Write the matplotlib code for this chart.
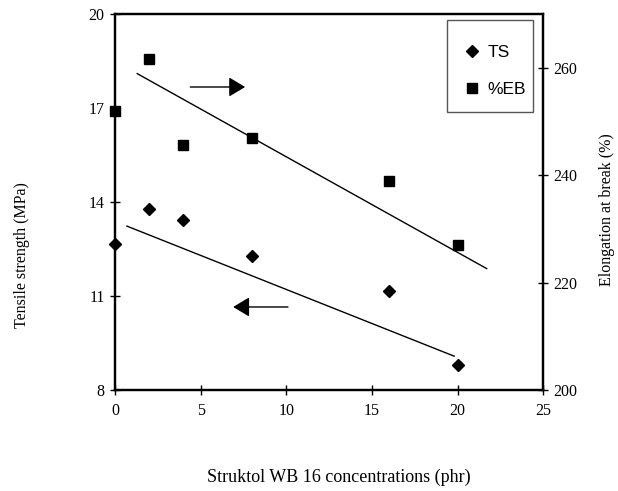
import matplotlib
matplotlib.use("Agg")
import matplotlib.pyplot as plt
from matplotlib.lines import Line2D
from matplotlib.patches import Rectangle

# Struktol WB 16 loading (phr)
conc = [0, 2, 4, 8, 16, 20]
tensile_strength = [12.65, 13.77, 13.43, 12.28, 11.17, 8.80]      # MPa
elongation_break = [251.9, 261.7, 245.7, 246.9, 239.0, 227.0]    # %

# Trend lines (end points)
ts_trend_x = [0.7, 19.8]
ts_trend_y = [13.23, 9.08]
eb_trend_x = [1.3, 21.7]
eb_trend_y = [258.9, 222.6]

x_ticks = [0, 5, 10, 15, 20, 25]
ts_ticks = [8, 11, 14, 17, 20]
eb_ticks = [200, 220, 240, 260]

serif = "Liberation Serif"
sans = "Liberation Sans"

fig = plt.figure(figsize=(6.18, 4.91), dpi=100)
ax = fig.add_axes([0.186, 0.2057, 0.693, 0.7658])
ax2 = ax.twinx()

ax.set_xlim(0, 25)
ax.set_ylim(8, 20)
ax2.set_ylim(200, 270)

ax.plot(conc, tensile_strength, linestyle="none", marker="D", markersize=6.5,
        color="black", clip_on=False, zorder=5)
ax.plot(ts_trend_x, ts_trend_y, color="black", linewidth=1.0)

ax2.plot(conc, elongation_break, linestyle="none", marker="s", markersize=7.5,
         color="black", clip_on=False, zorder=5)
ax2.plot(eb_trend_x, eb_trend_y, color="black", linewidth=1.0)

# Arrows pointing to the axis each series belongs to
arrow_style = dict(arrowstyle="-|>,head_length=1.0,head_width=0.6",
                   color="black", lw=1.0, shrinkA=0, shrinkB=0,
                   mutation_scale=10)
ax.annotate("", xy=(7.6, 17.67), xytext=(4.4, 17.67), arrowprops=arrow_style)
ax.annotate("", xy=(6.9, 10.65), xytext=(10.1, 10.65), arrowprops=arrow_style)

ax.set_xticks(x_ticks)
ax.set_yticks(ts_ticks)
ax2.set_yticks(eb_ticks)

for a in (ax, ax2):
    for sp in a.spines.values():
        sp.set_linewidth(1.6)
    a.tick_params(direction="inout", length=7, width=1.0, labelsize=11.5,
                  colors="black", pad=4)
    for lab in a.get_xticklabels() + a.get_yticklabels():
        lab.set_fontfamily(serif)

ax.tick_params(axis="x", pad=6)

ax.set_xlabel("Struktol WB 16 concentrations (phr)", fontsize=13,
              fontfamily=serif)
ax.xaxis.set_label_coords(0.523, -0.21)
ax.set_ylabel("Tensile strength (MPa)", fontsize=11.5, fontfamily=serif)
ax.yaxis.set_label_coords(-0.199, 0.36)
ax2.set_ylabel("Elongation at break (%)", fontsize=11.5, fontfamily=serif)
ax2.yaxis.set_label_coords(1.13, 0.48)

# Legend with a plain rectangular frame
ax2.add_patch(Rectangle((0.776, 0.739), 0.201, 0.245, transform=ax.transAxes,
                        facecolor="white", edgecolor="#555555", linewidth=1.0,
                        zorder=6, clip_on=False))
handles = [
    Line2D([], [], linestyle="none", marker="D", markersize=6.5, color="black"),
    Line2D([], [], linestyle="none", marker="s", markersize=7.5, color="black"),
]
leg = ax2.legend(handles, ["TS", "%EB"], loc="upper left",
                 bbox_to_anchor=(0.814, 0.917), frameon=False,
                 handlelength=1.0, handletextpad=0.36, labelspacing=1.25,
                 borderpad=0.0, borderaxespad=0.0,
                 prop={"family": sans, "size": 12.5})
leg.set_zorder(7)

fig.savefig("out.png", dpi=100)
